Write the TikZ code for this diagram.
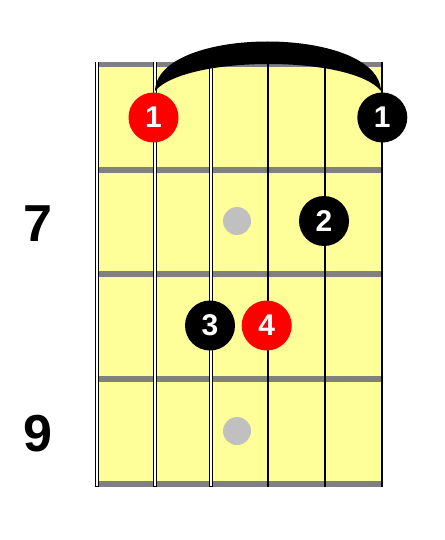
\documentclass[tikz,border=0pt]{standalone}
\usepackage{fontspec}
\setmainfont{Liberation Sans}
\begin{document}
\begin{tikzpicture}[x=1pt,y=-1pt,
  fret/.style={draw=none,fill=fretgray},
  wirestring/.style={line width=4pt,draw=black},
  wirein/.style={line width=2pt,draw=white},
  plainstring/.style={line width=1.5pt,draw=black},
  finger/.style={circle,minimum size=50pt,inner sep=0pt,text=white,font=\fontsize{30}{30}\selectfont\bfseries},
  marker/.style={circle,fill=markgray,minimum size=28pt,inner sep=0pt},
  fretnum/.style={font=\fontsize{52}{52}\selectfont\bfseries,inner sep=0pt}]
\definecolor{fretgray}{RGB}{128,128,128}
\definecolor{boardyellow}{RGB}{255,255,153}
\definecolor{markgray}{RGB}{192,192,192}
\useasboundingbox (0,0) rectangle (444,540);
\fill[white] (0,0) rectangle (444,540);
% board
\fill[boardyellow] (97,62) rectangle (382.5,486);
% frets
\foreach \y in {62,167,271,376,481} {\fill[fretgray] (97,\y) rectangle (382.5,\y+5.5);}
% strings
\foreach \x in {97.3,154.5,211} {\draw[wirestring] (\x,62) -- (\x,486.5); \draw[wirein] (\x,62.5) -- (\x,486);}
\foreach \x in {268,325,382} {\draw[plainstring] (\x,62) -- (\x,486.5);}
% position markers
\node[marker] (m7) at (237,221) {};
\node[marker] (m9) at (237,431) {};
% barre
\fill[black] (155,91) .. controls (157,25) and (378,25) .. (381,91)
  .. controls (352,55) and (186,55) .. (155,91) -- cycle;
% fingers
\node[finger,fill=red] (f1a) at (153.5,117.5) {1};
\node[finger,fill=black] (f1b) at (382.3,117.5) {1};
\node[finger,fill=black] (f2) at (324,221) {2};
\node[finger,fill=black] (f3) at (210,325.5) {3};
\node[finger,fill=red] (f4) at (266.7,325.5) {4};
% fret numbers
\node[fretnum] (n7) at (37.5,223.5) {7};
\node[fretnum] (n9) at (37.5,433.5) {9};
\end{tikzpicture}
\end{document}
